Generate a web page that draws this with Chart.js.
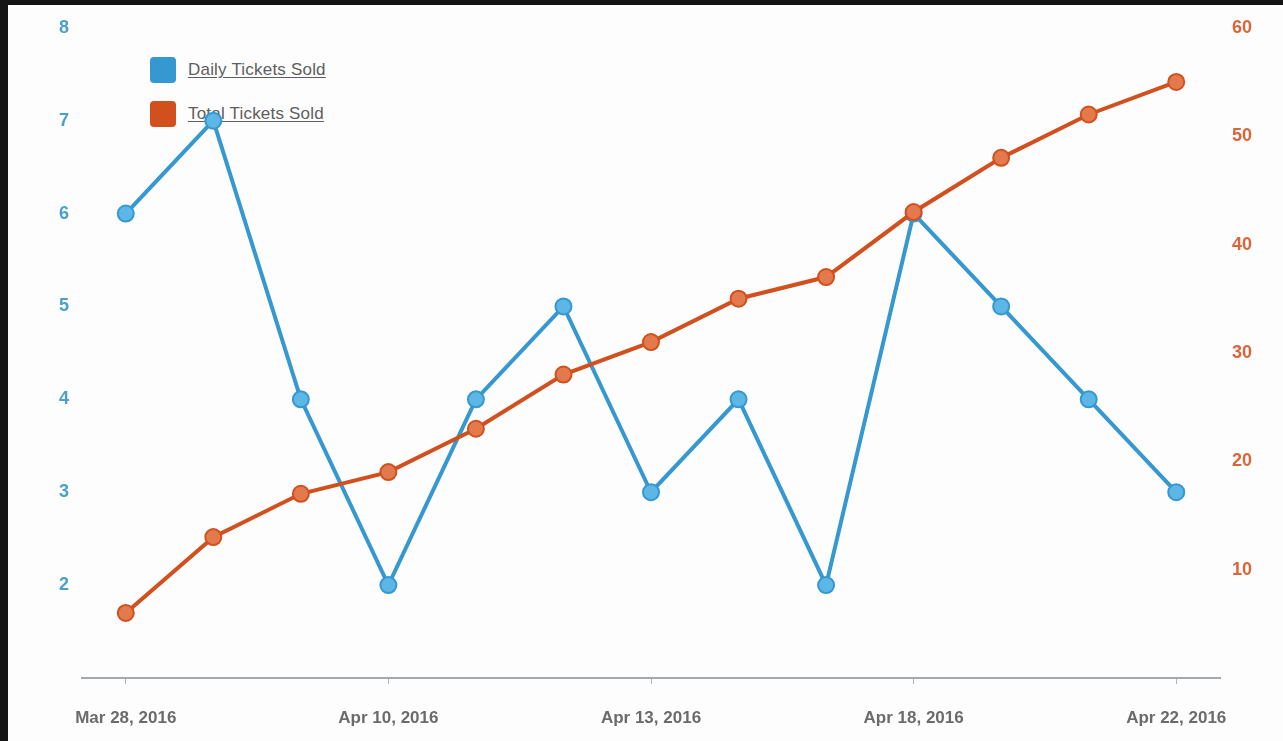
<!DOCTYPE html>
<html>
<head>
<meta charset="utf-8">
<script src="https://cdn.jsdelivr.net/npm/chart.js@4"></script>
<style>
  html, body { margin:0; padding:0; width:1283px; height:741px; background:#151515; overflow:hidden; }
  #panel { position:absolute; left:8px; top:5px; width:1275px; height:736px; background:#fdfdfd; }
  #legend { position:absolute; left:0; top:0; z-index:0; font-family:"Liberation Sans", Arial, sans-serif; }
  .item { position:absolute; left:142px; height:26px; display:flex; align-items:center; white-space:nowrap; }
  .box { width:26px; height:26px; border-radius:4px; margin-right:12px; }
  .lbl { font-size:17px; color:#5e5e5e; text-decoration:underline; text-underline-offset:2px; letter-spacing:0.2px; }
  #wrap { position:absolute; left:0; top:0; width:1275px; height:736px; z-index:1; }
</style>
</head>
<body>
<div id="panel">
  <div id="legend"></div>
  <div id="wrap"><canvas id="c"></canvas></div>
</div>
<script>
const categories = ["Mar 28, 2016","Apr 1, 2016","Apr 5, 2016","Apr 10, 2016","Apr 11, 2016","Apr 12, 2016","Apr 13, 2016","Apr 14, 2016","Apr 16, 2016","Apr 18, 2016","Apr 19, 2016","Apr 20, 2016","Apr 22, 2016"];
const dailyTickets = [6, 7, 4, 2, 4, 5, 3, 4, 2, 6, 5, 4, 3];
const totalTickets = [6, 13, 17, 19, 23, 28, 31, 35, 37, 43, 48, 52, 55];
const seriesNames = ["Daily Tickets Sold", "Total Tickets Sold"];
const leftTicks = [1, 8, 1];   // min, max, step
const rightTicks = [0, 60, 10];

const blue = "#3598d0", blueFill = "#5cb6e6";
const orange = "#d24f1e", orangeFill = "#e27a4e";
const font = "'Liberation Sans', Arial, sans-serif";

// HTML legend (beneath the canvas)
const legend = document.getElementById('legend');
[[seriesNames[0], blue, 52], [seriesNames[1], orange, 96]].forEach(([t, c, top]) => {
  const d = document.createElement('div');
  d.className = 'item'; d.style.top = top + 'px';
  d.innerHTML = '<div class="box" style="background:' + c + '"></div><span class="lbl"></span>';
  d.querySelector('.lbl').textContent = t;
  legend.appendChild(d);
});

new Chart(document.getElementById('c'), {
  type: 'line',
  data: {
    labels: categories,
    datasets: [
      { label: seriesNames[0], data: dailyTickets, yAxisID: 'y', order: 2,
        borderColor: blue, backgroundColor: blueFill, borderWidth: 4,
        pointRadius: 8, pointHoverRadius: 8, pointBorderWidth: 2,
        pointBackgroundColor: blueFill, pointBorderColor: blue, tension: 0 },
      { label: seriesNames[1], data: totalTickets, yAxisID: 'y1', order: 1,
        borderColor: orange, backgroundColor: orangeFill, borderWidth: 4,
        pointRadius: 8, pointHoverRadius: 8, pointBorderWidth: 2,
        pointBackgroundColor: orangeFill, pointBorderColor: orange, tension: 0 }
    ]
  },
  options: {
    responsive: true, maintainAspectRatio: false, animation: false,
    layout: { padding: { left: 51, right: 0, top: 22, bottom: 0 } },
    plugins: { legend: { display: false }, tooltip: { enabled: false } },
    scales: {
      x: {
        offset: true,
        border: { display: true, color: '#a3a9ad', width: 2 },
        grid: { drawOnChartArea: false, drawTicks: true, tickLength: 6,
                tickColor: (ctx) => (ctx.index % 3 === 0 ? '#b0b4b8' : 'rgba(0,0,0,0)'),
                color: (ctx) => (ctx.index % 3 === 0 ? '#b0b4b8' : 'rgba(0,0,0,0)') },
        ticks: { autoSkip: false, maxRotation: 0, padding: 24, color: '#6b6b6b',
                 font: { family: font, size: 17, weight: 'bold' },
                 callback: function(v, i) { return i % 3 === 0 ? this.getLabelForValue(v) : ''; } },
        afterFit: (s) => { s.height = 63; }
      },
      y: {
        position: 'left', min: leftTicks[0], max: leftTicks[1],
        border: { display: false }, grid: { display: false, drawTicks: false },
        ticks: { stepSize: leftTicks[2], crossAlign: 'far', color: '#4a9fcc',
                 font: { family: font, size: 18, weight: 'bold' },
                 callback: (v) => (v === leftTicks[0] ? '' : v) },
        afterFit: (s) => { s.width = 23; }
      },
      y1: {
        position: 'right', min: rightTicks[0], max: rightTicks[1],
        border: { display: false }, grid: { display: false, drawTicks: false },
        ticks: { stepSize: rightTicks[2], padding: 12, color: '#d9663a',
                 font: { family: font, size: 18, weight: 'bold' },
                 callback: (v) => (v === rightTicks[0] ? '' : v) },
        afterFit: (s) => { s.width = 63; }
      }
    }
  }
});
</script>
</body>
</html>
